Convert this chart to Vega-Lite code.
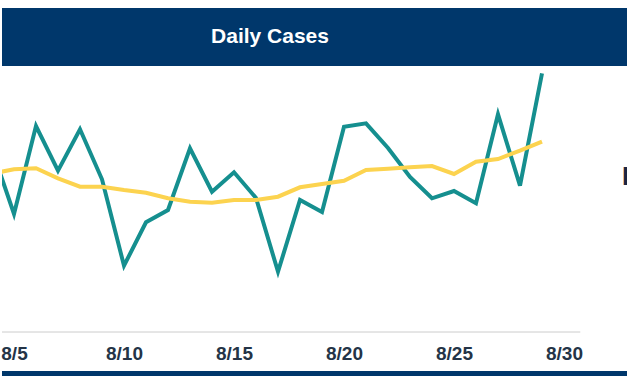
{
  "$schema": "https://vega.github.io/schema/vega-lite/v6.json",
  "padding": {"top": 8, "left": 0, "right": 0, "bottom": 0},
  "config": {"view": {"stroke": null}},
  "vconcat": [
    {
      "width": 627,
      "height": 58,
      "view": {"fill": "#00376b", "stroke": null},
      "data": {"values": [{"title": "Daily Cases"}]},
      "mark": {"type": "text", "color": "white", "fontSize": 21, "fontWeight": "bold", "font": "Liberation Sans", "baseline": "middle", "align": "center", "dx": -45.5},
      "encoding": {"text": {"field": "title", "type": "nominal"}}
    },
    {
      "width": 627,
      "height": 266,
      "layer": [
        {
          "data": {"values": [{"start": 1596538473000, "end": 1598809620000, "base": 0}]},
          "mark": {"type": "rule", "color": "#cccccc", "strokeWidth": 1},
          "encoding": {
            "x": {"field": "start", "type": "temporal"},
            "x2": {"field": "end"},
            "y": {"field": "base", "type": "quantitative", "axis": null}
          }
        },
        {
          "data": {"values": [
            {"date": "2020-08-04", "series": "Daily", "cases": 1826},
            {"date": "2020-08-05", "series": "Daily", "cases": 1180},
            {"date": "2020-08-06", "series": "Daily", "cases": 2060},
            {"date": "2020-08-07", "series": "Daily", "cases": 1613},
            {"date": "2020-08-08", "series": "Daily", "cases": 2027},
            {"date": "2020-08-09", "series": "Daily", "cases": 1527},
            {"date": "2020-08-10", "series": "Daily", "cases": 663},
            {"date": "2020-08-11", "series": "Daily", "cases": 1097},
            {"date": "2020-08-12", "series": "Daily", "cases": 1220},
            {"date": "2020-08-13", "series": "Daily", "cases": 1837},
            {"date": "2020-08-14", "series": "Daily", "cases": 1403},
            {"date": "2020-08-15", "series": "Daily", "cases": 1597},
            {"date": "2020-08-16", "series": "Daily", "cases": 1340},
            {"date": "2020-08-17", "series": "Daily", "cases": 603},
            {"date": "2020-08-18", "series": "Daily", "cases": 1320},
            {"date": "2020-08-19", "series": "Daily", "cases": 1200},
            {"date": "2020-08-20", "series": "Daily", "cases": 2053},
            {"date": "2020-08-21", "series": "Daily", "cases": 2087},
            {"date": "2020-08-22", "series": "Daily", "cases": 1840},
            {"date": "2020-08-23", "series": "Daily", "cases": 1550},
            {"date": "2020-08-24", "series": "Daily", "cases": 1337},
            {"date": "2020-08-25", "series": "Daily", "cases": 1410},
            {"date": "2020-08-26", "series": "Daily", "cases": 1287},
            {"date": "2020-08-27", "series": "Daily", "cases": 2177},
            {"date": "2020-08-28", "series": "Daily", "cases": 1463},
            {"date": "2020-08-29", "series": "Daily", "cases": 2587},
            {"date": "2020-08-04", "series": "7-Day Average", "cases": 1585},
            {"date": "2020-08-05", "series": "7-Day Average", "cases": 1627},
            {"date": "2020-08-06", "series": "7-Day Average", "cases": 1637},
            {"date": "2020-08-07", "series": "7-Day Average", "cases": 1537},
            {"date": "2020-08-08", "series": "7-Day Average", "cases": 1453},
            {"date": "2020-08-09", "series": "7-Day Average", "cases": 1453},
            {"date": "2020-08-10", "series": "7-Day Average", "cases": 1420},
            {"date": "2020-08-11", "series": "7-Day Average", "cases": 1393},
            {"date": "2020-08-12", "series": "7-Day Average", "cases": 1337},
            {"date": "2020-08-13", "series": "7-Day Average", "cases": 1303},
            {"date": "2020-08-14", "series": "7-Day Average", "cases": 1293},
            {"date": "2020-08-15", "series": "7-Day Average", "cases": 1320},
            {"date": "2020-08-16", "series": "7-Day Average", "cases": 1320},
            {"date": "2020-08-17", "series": "7-Day Average", "cases": 1353},
            {"date": "2020-08-18", "series": "7-Day Average", "cases": 1447},
            {"date": "2020-08-19", "series": "7-Day Average", "cases": 1480},
            {"date": "2020-08-20", "series": "7-Day Average", "cases": 1513},
            {"date": "2020-08-21", "series": "7-Day Average", "cases": 1620},
            {"date": "2020-08-22", "series": "7-Day Average", "cases": 1633},
            {"date": "2020-08-23", "series": "7-Day Average", "cases": 1647},
            {"date": "2020-08-24", "series": "7-Day Average", "cases": 1660},
            {"date": "2020-08-25", "series": "7-Day Average", "cases": 1580},
            {"date": "2020-08-26", "series": "7-Day Average", "cases": 1703},
            {"date": "2020-08-27", "series": "7-Day Average", "cases": 1730},
            {"date": "2020-08-28", "series": "7-Day Average", "cases": 1813},
            {"date": "2020-08-29", "series": "7-Day Average", "cases": 1903}
          ]},
          "mark": {"type": "line", "strokeWidth": 4, "clip": true},
          "encoding": {
            "x": {
              "field": "date",
              "type": "temporal",
              "scale": {"type": "utc", "domain": [1596538473000, 1599000873000]},
              "axis": {
                "title": null,
                "domain": false,
                "ticks": false,
                "grid": false,
                "format": "%-m/%-d",
                "values": [1596585600000, 1597017600000, 1597449600000, 1597881600000, 1598313600000, 1598745600000],
                "labelFont": "Liberation Sans",
                "labelFontSize": 19,
                "labelFontWeight": "bold",
                "labelColor": "#243447",
                "labelPadding": 12,
                "labelFlush": false,
                "labelOverlap": false,
                "labelOffset": 0
              }
            },
            "y": {
              "field": "cases",
              "type": "quantitative",
              "scale": {"domain": [0, 2660], "nice": false, "zero": false},
              "axis": null
            },
            "color": {
              "field": "series",
              "type": "nominal",
              "scale": {"domain": ["Daily", "7-Day Average"], "range": ["#158f8f", "#fcd34f"]},
              "legend": null
            }
          }
        },
        {
          "data": {"values": [{"when": 1598973360000, "level": 1470, "label": "L"}]},
          "mark": {"type": "text", "align": "left", "baseline": "alphabetic", "fontSize": 26, "fontWeight": "bold", "font": "Liberation Sans", "color": "#1b2541"},
          "encoding": {
            "x": {"field": "when", "type": "temporal"},
            "y": {"field": "level", "type": "quantitative", "axis": null},
            "text": {"field": "label", "type": "nominal"}
          }
        }
      ]
    },
    {
      "width": 627,
      "height": 44,
      "data": {"values": [{"band": "footer"}]},
      "mark": {"type": "rect", "color": "#00376b"},
      "encoding": {
        "y": {"datum": 0, "type": "quantitative", "scale": {"domain": [0, 44], "nice": false, "zero": false}, "axis": null},
        "y2": {"datum": 5}
      }
    }
  ],
  "spacing": 0,
  "bounds": "flush"
}
